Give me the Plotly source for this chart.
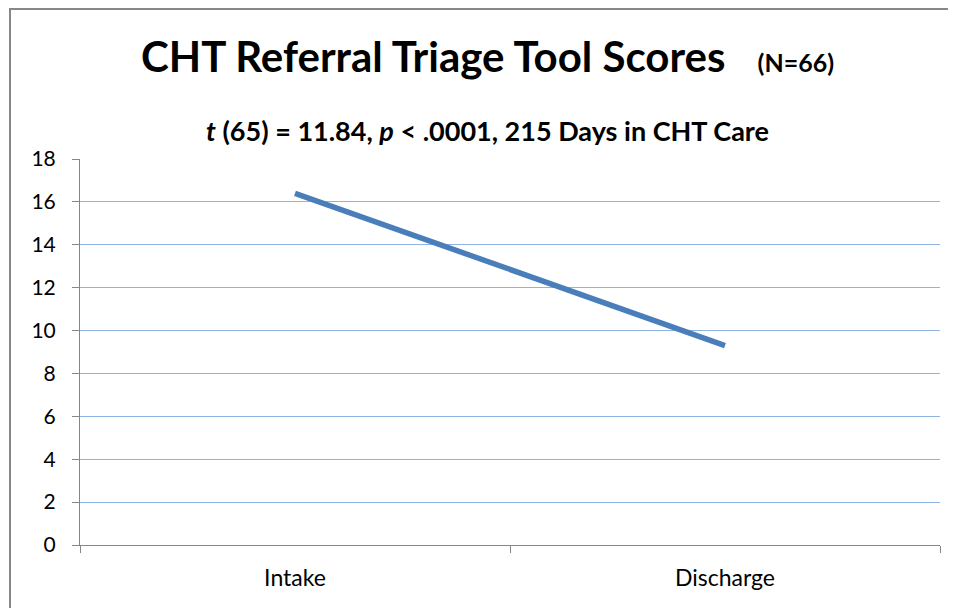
import plotly.graph_objects as go

categories = ["Intake", "Discharge"]
scores = [16.4, 9.3]
y_ticks = [0, 2, 4, 6, 8, 10, 12, 14, 16, 18]

FONT = "Lato, Open Sans, sans-serif"

# page body has an 8px margin; the figure is shrunk so its pixels line up
OFF = 8
W, H = 956 - OFF, 608 - OFF
L, T, R, B = 80 - OFF, 159 - OFF, 940 - OFF, 545 - OFF  # plot area in figure px

fig = go.Figure()
fig.add_trace(go.Scatter(
    x=categories, y=scores, mode="lines",
    line=dict(color="#4A7EBB", width=5.5),
    hoverinfo="x+y", showlegend=False,
))

def py(p):
    return (545 - p) / float(B - T)

def px(p):
    return (p - 80) / float(R - L)

fig.add_annotation(
    x=px(487), y=py(56), xref="paper", yref="paper", showarrow=False,
    xanchor="center", yanchor="middle",
    text="<b>CHT Referral Triage Tool Scores</b>&nbsp;&nbsp;&nbsp;<b><span style='font-size:25px'>(N=66)</span></b>",
    font=dict(family=FONT, size=42, color="#000000"),
)
fig.add_annotation(
    x=px(487), y=py(131), xref="paper", yref="paper", showarrow=False,
    xanchor="center", yanchor="middle",
    text="<b><i>t</i> (65) = 11.84, <i>p</i> < .0001, 215 Days in CHT Care</b>",
    font=dict(family=FONT, size=27, color="#000000"),
)

fig.add_shape(
    type="rect", xref="paper", yref="paper",
    x0=px(10), x1=px(1000), y0=py(700), y1=py(9),
    line=dict(color="#878787", width=2), fillcolor="rgba(0,0,0,0)", layer="below",
)

fig.update_layout(
    width=W, height=H,
    margin=dict(l=L, r=W - R, t=T, b=H - B),
    paper_bgcolor="white", plot_bgcolor="white",
    font=dict(family=FONT, size=20, color="#000000"),
)
fig.update_xaxes(
    type="category", range=[-0.5, 1.5], tickson="boundaries",
    ticks="outside", ticklen=7, tickcolor="#868686",
    showline=True, linecolor="#868686", linewidth=1,
    showgrid=False, zeroline=False,
    tickfont=dict(family=FONT, size=23),
    ticklabelstandoff=12,
)
fig.update_yaxes(
    range=[0, 18], tickvals=y_ticks,
    ticks="outside", ticklen=7, tickcolor="#868686",
    showline=True, linecolor="#868686", linewidth=1,
    showgrid=True, gridcolor="#8EB4E3", gridwidth=1,
    zeroline=False,
    tickfont=dict(family=FONT, size=21),
    ticklabelstandoff=12,
)

fig.write_html("out.html")
